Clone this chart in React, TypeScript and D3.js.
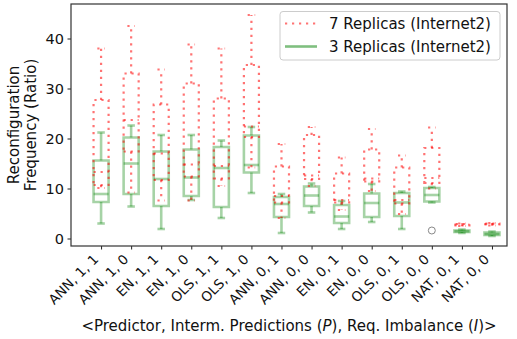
import React, { useEffect, useRef } from "react";
import * as d3 from "d3";

// category labels along x
const categories = [
  "ANN, 1, 1", "ANN, 1, 0", "EN, 1, 1", "EN, 1, 0", "OLS, 1, 1", "OLS, 1, 0",
  "ANN, 0, 1", "ANN, 0, 0", "EN, 0, 1", "EN, 0, 0", "OLS, 0, 1", "OLS, 0, 0",
  "NAT, 0, 1", "NAT, 0, 0",
];

// box stats: [whisker low, q1, median, q3, whisker high]
const replicas7 = [
  [10.1, 10.7, 13.3, 27.7, 38.0],
  [9.2, 17.4, 23.7, 33.0, 42.5],
  [7.6, 11.7, 17.0, 26.8, 33.8],
  [7.6, 12.4, 14.8, 31.0, 38.8],
  [10.5, 12.0, 14.5, 28.0, 38.0],
  [14.2, 20.3, 22.4, 34.7, 44.7],
  [4.1, 7.2, 8.5, 14.4, 18.9],
  [10.5, 11.9, 12.6, 20.7, 22.3],
  [5.7, 7.2, 7.7, 13.0, 16.2],
  [9.5, 11.4, 12.0, 17.8, 21.9],
  [4.9, 7.0, 7.7, 14.2, 16.6],
  [10.0, 11.1, 12.1, 18.1, 22.2],
  [2.5, 2.6, 2.8, 2.9, 3.0],
  [2.6, 2.8, 2.9, 3.0, 3.1],
];

const replicas3 = [
  [3.0, 7.3, 8.9, 15.6, 21.2],
  [6.4, 8.9, 15.0, 20.2, 22.6],
  [1.9, 6.5, 11.9, 17.4, 20.7],
  [7.7, 8.5, 12.2, 17.8, 20.7],
  [4.1, 6.3, 14.1, 18.3, 19.6],
  [9.1, 13.2, 14.7, 20.6, 22.3],
  [1.1, 4.3, 6.9, 8.3, 8.9],
  [5.2, 6.5, 8.6, 10.4, 11.0],
  [1.9, 3.1, 4.4, 6.7, 7.5],
  [3.3, 4.3, 7.1, 9.0, 10.9],
  [1.9, 4.5, 7.2, 9.1, 9.4],
  [7.2, 7.4, 8.7, 10.1, 10.3],
  [1.1, 1.3, 1.45, 1.6, 1.8],
  [0.5, 0.7, 0.9, 1.2, 1.4],
];

// fliers for the 3-replica series: [category index (1-based), value]
const replicas3Outliers = [[12, 1.6]];

const yTicks = [0, 10, 20, 30, 40];
const legendLabels = ["7 Replicas (Internet2)", "3 Replicas (Internet2)"];

const FONT = "DejaVu Sans, sans-serif";

const App = () => {
  const ref = useRef<SVGSVGElement>(null);

  useEffect(() => {
    if (!ref.current) return;
    const svg = d3.select(ref.current);
    svg.selectAll("*").remove();

    const plot = { left: 71, right: 507, top: 4, bottom: 246 };

    const x = d3.scaleLinear().domain([0, 14.5]).range([plot.left, plot.right]);
    const y = d3.scaleLinear().domain([-1.5, 46.9]).range([plot.bottom, plot.top]);

    const red = { stroke: "red", opacity: 0.55, width: 2.2, dash: "2.2,4.8" };
    const green = { stroke: "green", opacity: 0.35, width: 2.6, dash: null };

    const drawBoxes = (stats: number[][], st: any) => {
      const g = svg.append("g")
        .attr("fill", "none")
        .attr("stroke", st.stroke)
        .attr("stroke-opacity", st.opacity)
        .attr("stroke-width", st.width);
      if (st.dash) g.attr("stroke-dasharray", st.dash);

      stats.forEach((s, i) => {
        const c = i + 1;
        const [lo, q1, med, q3, hi] = s;
        const seg = (x1: number, y1: number, x2: number, y2: number) =>
          g.append("line").attr("x1", x1).attr("y1", y1).attr("x2", x2).attr("y2", y2);
        // box
        g.append("path").attr(
          "d",
          `M${x(c - 0.25)},${y(q1)}L${x(c + 0.25)},${y(q1)}L${x(c + 0.25)},${y(q3)}L${x(c - 0.25)},${y(q3)}Z`
        );
        // whiskers
        seg(x(c), y(q1), x(c), y(lo));
        seg(x(c), y(q3), x(c), y(hi));
        // caps
        seg(x(c - 0.125), y(lo), x(c + 0.125), y(lo));
        seg(x(c - 0.125), y(hi), x(c + 0.125), y(hi));
        // median
        seg(x(c - 0.25), y(med), x(c + 0.25), y(med));
      });
    };

    drawBoxes(replicas3, green);
    drawBoxes(replicas7, red);

    svg.append("g")
      .selectAll("circle")
      .data(replicas3Outliers)
      .join("circle")
      .attr("cx", d => x(d[0]))
      .attr("cy", d => y(d[1]))
      .attr("r", 3.5)
      .attr("fill", "none")
      .attr("stroke", "#888")
      .attr("stroke-width", 1);

    // ===== Axes =====
    const yAxis = svg.append("g")
      .attr("transform", `translate(${plot.left},0)`)
      .call(d3.axisLeft(y).tickValues(yTicks).tickSize(3.5).tickPadding(3.5).tickSizeOuter(0));
    yAxis.selectAll("text").style("font-family", FONT).style("font-size", "14.5px").attr("fill", "#111");

    const xAxis = svg.append("g")
      .attr("transform", `translate(0,${plot.bottom})`)
      .call(
        d3.axisBottom(x)
          .tickValues(d3.range(1, categories.length + 1))
          .tickFormat((d: any) => categories[d - 1])
          .tickSize(3.5)
          .tickSizeOuter(0)
      );
    const fs = 13.5;
    xAxis.selectAll("text")
      .style("font-family", FONT)
      .style("font-size", `${fs}px`)
      .attr("fill", "#111")
      .attr("text-anchor", "end")
      .attr("x", 0)
      .attr("y", 0)
      .attr("dy", "0.35em")
      .attr("transform", `translate(${-0.707 * (0.35 + 0.24) * fs},${7 + 0.707 * (0.74 - 0.35) * fs}) rotate(-45)`);

    svg.selectAll(".domain").remove();
    svg.selectAll(".tick line").attr("stroke", "#222").attr("stroke-width", 1);

    svg.append("rect")
      .attr("x", plot.left)
      .attr("y", plot.top)
      .attr("width", plot.right - plot.left)
      .attr("height", plot.bottom - plot.top)
      .attr("fill", "none")
      .attr("stroke", "#333")
      .attr("stroke-width", 1.2);

    // ===== Labels =====
    const yl = svg.append("text")
      .attr("transform", `translate(22.5,125) rotate(-90)`)
      .attr("text-anchor", "middle")
      .style("font-family", FONT)
      .style("font-size", "15px")
      .attr("fill", "#111");
    yl.append("tspan").attr("x", 0).attr("y", -8.5).attr("dy", "0.35em").text("Reconfiguration");
    yl.append("tspan").attr("x", 0).attr("y", 8.5).attr("dy", "0.35em").text("Frequency (Ratio)");

    const xl = svg.append("text")
      .attr("x", (plot.left + plot.right) / 2)
      .attr("y", 331)
      .attr("text-anchor", "middle")
      .style("font-family", FONT)
      .style("font-size", "15px")
      .attr("fill", "#111");
    xl.append("tspan").text("<Predictor, Interm. Predictions (");
    xl.append("tspan").style("font-style", "italic").text("P");
    xl.append("tspan").text("), Req. Imbalance (");
    xl.append("tspan").style("font-style", "italic").text("I");
    xl.append("tspan").text(")>");

    // ===== Legend =====
    const lg = svg.append("g");
    lg.append("rect")
      .attr("x", 280).attr("y", 11.5).attr("width", 220).attr("height", 48.5)
      .attr("rx", 3)
      .attr("fill", "white").attr("fill-opacity", 0.8)
      .attr("stroke", "#ccc").attr("stroke-width", 1);
    [red, green].forEach((st, i) => {
      const cy = 23.5 + i * 23;
      const l = lg.append("line")
        .attr("x1", 285).attr("x2", 317).attr("y1", cy).attr("y2", cy)
        .attr("stroke", st.stroke)
        .attr("stroke-opacity", i === 0 ? st.opacity : 0.5)
        .attr("stroke-width", st.width);
      if (st.dash) l.attr("stroke-dasharray", st.dash);
      lg.append("text")
        .attr("x", 329).attr("y", cy).attr("dy", "0.35em")
        .style("font-family", FONT).style("font-size", "15px")
        .attr("fill", "#111")
        .text(legendLabels[i]);
    });
  }, []);

  return (
    <svg
      ref={ref}
      width={517}
      height={339}
      style={{ position: "absolute", left: 0, top: 0, background: "white" }}
    />
  );
};

export default App;
